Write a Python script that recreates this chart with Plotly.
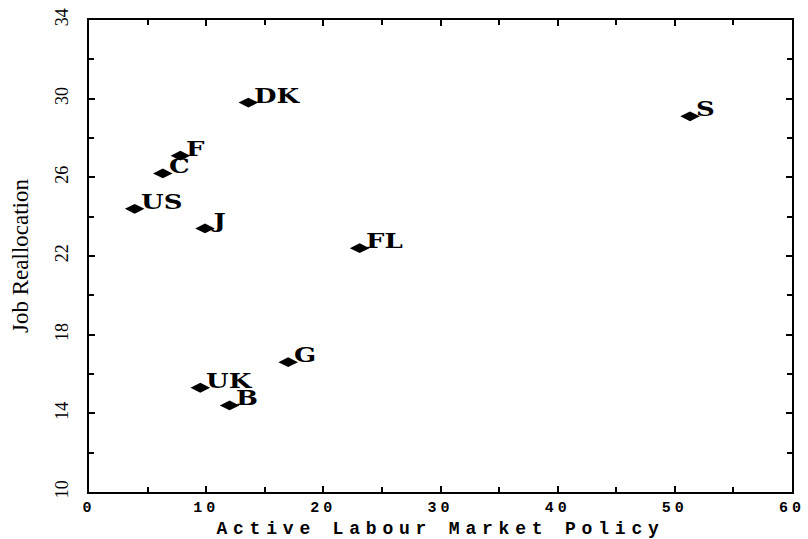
import plotly.graph_objects as go

# Country codes, ALMP spending and job reallocation rates
countries = ["DK", "S", "F", "C", "US", "J", "FL", "G", "UK", "B"]
almp = [13.6, 51.3, 7.8, 6.3, 3.9, 9.9, 23.1, 17.0, 9.5, 12.0]
job_realloc = [29.8, 29.1, 27.1, 26.2, 24.4, 23.4, 22.4, 16.6, 15.3, 14.4]

x_ticks = [0, 10, 20, 30, 40, 50, 60]
y_ticks = [10, 14, 18, 22, 26, 30, 34]

fig = go.Figure()
fig.add_trace(go.Scatter(
    x=almp, y=job_realloc, mode="markers",
    marker=dict(symbol="diamond-wide", size=14, color="black",
                line=dict(width=0)),
    hoverinfo="skip", showlegend=False,
))

for name, xv, yv in zip(countries, almp, job_realloc):
    fig.add_annotation(
        x=xv, y=yv, text=name, showarrow=False,
        xanchor="left", yanchor="middle", xshift=4, yshift=7,
        font=dict(family="DejaVu Serif", size=20, color="black", weight="bold"),
    )

axis_common = dict(
    showline=True, linecolor="black", linewidth=2, mirror="ticks",
    ticks="inside", ticklen=6, tickwidth=1.5, tickcolor="black",
    showgrid=False, zeroline=False, automargin=False,
)

fig.update_xaxes(
    range=[0, 60], tickvals=x_ticks, ticktext=[str(v) for v in x_ticks],
    ticklabelstandoff=0,
    tickfont=dict(family="Liberation Mono", size=15, color="black", weight="bold"),
    minor=dict(dtick=5, ticks="inside", ticklen=5, tickcolor="black", tickwidth=1.5),
    title=dict(text="Active Labour Market Policy", standoff=16,
               font=dict(family="Liberation Mono", size=18, color="black", weight="bold")),
    **axis_common,
)
fig.update_yaxes(
    range=[10, 34], tickvals=y_ticks, ticktext=[str(v) for v in y_ticks],
    tickangle=-90, ticklabelstandoff=12,
    tickfont=dict(family="Liberation Serif", size=18, color="black"),
    minor=dict(dtick=2, ticks="inside", ticklen=5, tickcolor="black", tickwidth=1.5),
    title=dict(text="Job Reallocation", standoff=17,
               font=dict(family="Liberation Serif", size=23, color="black")),
    **axis_common,
)

fig.update_layout(
    width=808, height=539,
    margin=dict(l=89, r=16, t=20, b=47),
    paper_bgcolor="white", plot_bgcolor="white",
)

# Widen the x-axis title and tick labels, and stretch the point labels
style_js = """
document.querySelectorAll('.xtitle').forEach(function(e){e.style.letterSpacing='5.8px';});
document.querySelectorAll('.xtick text').forEach(function(e){e.style.letterSpacing='4px';});
document.querySelectorAll('.annotation-text').forEach(function(e){
  e.style.transformBox='fill-box';
  e.style.transformOrigin='left center';
  e.style.transform='scaleX(1.3)';
});
"""

fig.write_html("out.html", post_script=style_js)
